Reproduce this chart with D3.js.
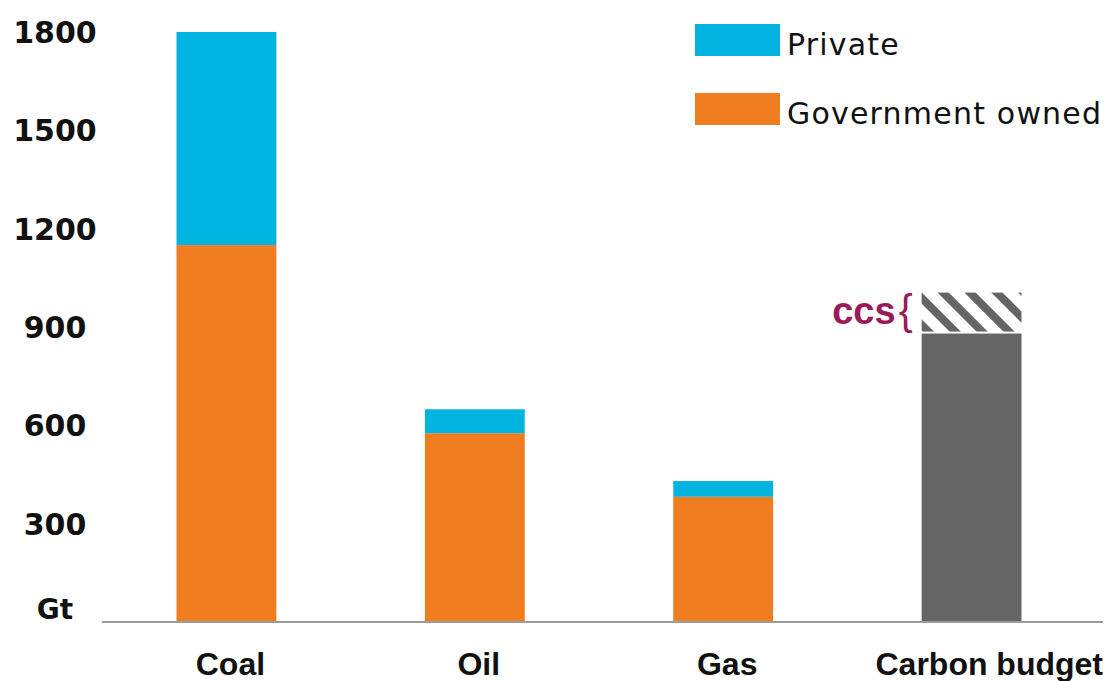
<!DOCTYPE html>
<html>
<head>
<meta charset="utf-8">
<script src="https://cdn.jsdelivr.net/npm/d3@7"></script>
<style>
  html, body { margin: 0; padding: 0; background: #fff; }
  svg { display: block; }
</style>
</head>
<body>
<svg id="chart" width="1113" height="681"></svg>
<script>
// Fossil fuel reserves by ownership vs. the remaining carbon budget (Gt CO2)
const categories = ["Coal", "Oil", "Gas", "Carbon budget"];
const governmentOwned = [1150, 576, 382, null];
const privateOwned = [650, 73, 48, null];
const budget = [null, null, null, 880];
const ccs = [null, null, null, 125];
const tickValues = [0, 300, 600, 900, 1200, 1500, 1800];
const seriesNames = ["Private", "Government owned"];

const colors = {
  "Private": "#00b4df",
  "Government owned": "#f17d21",
  budget: "#656565",
  ccs: "#9b1b5a",
  axis: "#9b9b9b",
  text: "#111"
};

const W = 1113, H = 681;
const svg = d3.select("#chart");

const x = d3.scaleBand()
  .domain(categories)
  .range([102, 1096])
  .paddingInner(0.598)
  .paddingOuter(0.3);

const y = d3.scaleLinear()
  .domain([0, 1800])
  .range([622, 32]);

// hatching for the CCS allowance
const defs = svg.append("defs");
const pat = defs.append("pattern")
  .attr("id", "hatch")
  .attr("patternUnits", "userSpaceOnUse")
  .attr("width", 19)
  .attr("height", 19)
  .attr("patternTransform", "rotate(-45)");
pat.append("rect").attr("width", 19).attr("height", 19).attr("fill", "#fff");
pat.append("rect").attr("x", 0).attr("width", 8).attr("height", 19).attr("fill", colors.budget);

// stacked bars
const stackRows = categories.map((c, i) => ({
  cat: c,
  "Government owned": governmentOwned[i] || 0,
  "Private": privateOwned[i] || 0
}));
const stack = d3.stack().keys(["Government owned", "Private"]);
const layers = stack(stackRows);

svg.append("g").selectAll("g")
  .data(layers)
  .join("g")
  .attr("fill", d => colors[d.key])
  .selectAll("rect")
  .data(d => d.filter(p => p[1] > p[0]))
  .join("rect")
  .attr("x", d => x(d.data.cat))
  .attr("width", x.bandwidth())
  .attr("y", d => y(d[1]))
  .attr("height", d => y(d[0]) - y(d[1]));

// carbon budget bar with the CCS extension on top
categories.forEach((c, i) => {
  if (budget[i] == null) return;
  svg.append("rect")
    .attr("x", x(c))
    .attr("width", x.bandwidth())
    .attr("y", y(budget[i]))
    .attr("height", y(0) - y(budget[i]))
    .attr("fill", colors.budget);
  const top = budget[i] + ccs[i];
  svg.append("rect")
    .attr("x", x(c))
    .attr("width", x.bandwidth())
    .attr("y", y(top))
    .attr("height", y(budget[i]) - y(top) - 2)
    .attr("fill", "url(#hatch)");
  const midY = (y(top) + y(budget[i])) / 2;
  svg.append("text")
    .attr("x", x(c) - 26)
    .attr("y", midY + 11)
    .attr("text-anchor", "end")
    .attr("font-family", "Liberation Sans, Arial, sans-serif")
    .attr("font-weight", "bold")
    .attr("font-size", 38)
    .attr("fill", colors.ccs)
    .text("ccs");
  svg.append("text")
    .attr("x", x(c) - 23)
    .attr("y", midY + 11)
    .attr("font-family", "Liberation Sans, Arial, sans-serif")
    .attr("font-size", 42)
    .attr("fill", colors.ccs)
    .text("{");
});

// baseline
svg.append("line")
  .attr("x1", 102).attr("x2", 1103)
  .attr("y1", y(0)).attr("y2", y(0))
  .attr("stroke", colors.axis)
  .attr("stroke-width", 2);

// y tick labels (unit shown at zero)
svg.append("g").selectAll("text")
  .data(tickValues)
  .join("text")
  .attr("x", 55)
  .attr("y", d => d === 0 ? y(0) - 3 : y(d) + 11)
  .attr("text-anchor", "middle")
  .attr("font-family", "DejaVu Sans, sans-serif")
  .attr("font-weight", "bold")
  .attr("font-size", d => d === 0 ? 28 : 30)
  .attr("fill", colors.text)
  .text(d => d === 0 ? "Gt" : d);

// category labels
svg.append("g").selectAll("text")
  .data(categories)
  .join("text")
  .attr("x", (d, i) => i === categories.length - 1 ? 1103 : x(d) + x.bandwidth() / 2 + 4)
  .attr("y", 675)
  .attr("text-anchor", (d, i) => i === categories.length - 1 ? "end" : "middle")
  .attr("font-family", "Liberation Sans, Arial, sans-serif")
  .attr("font-weight", "bold")
  .attr("font-size", 32)
  .attr("fill", colors.text)
  .text(d => d);

// legend
const legend = svg.append("g").attr("transform", "translate(695,24)");
seriesNames.forEach((name, i) => {
  const g = legend.append("g").attr("transform", `translate(0,${i * 69})`);
  g.append("rect").attr("width", 85).attr("height", 32).attr("fill", colors[name]);
  g.append("text")
    .attr("x", 92)
    .attr("y", 31)
    .attr("font-family", "DejaVu Sans, sans-serif")
    .attr("font-size", 30)
    .attr("letter-spacing", 1.2)
    .attr("fill", colors.text)
    .text(name);
});
</script>
</body>
</html>
